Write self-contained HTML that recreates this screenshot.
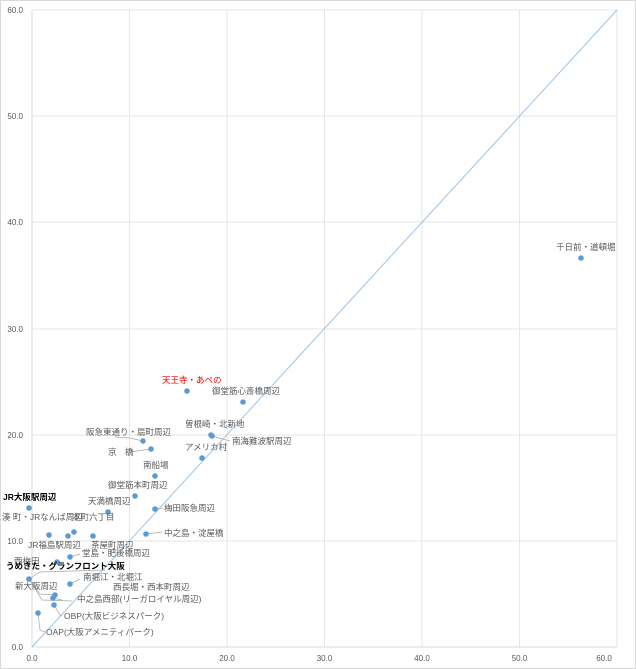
<!DOCTYPE html>
<html><head><meta charset="utf-8"><style>
body{margin:0;background:#fff}
svg{display:block;font-family:"Liberation Sans","Noto Sans CJK JP",sans-serif}
.t{font-size:8.5px;fill:#595959}
.a{font-size:8px;fill:#595959}
</style></head><body>
<svg width="636" height="669" viewBox="0 0 636 669">
<rect x="0.5" y="0.5" width="635" height="668" fill="#fff" stroke="#d9d9d9"/>
<g stroke="#e6e6e6" stroke-width="1">
<line x1="32" y1="10" x2="617" y2="10"/><line x1="32" y1="116" x2="617" y2="116"/>
<line x1="32" y1="222" x2="617" y2="222"/><line x1="32" y1="329" x2="617" y2="329"/>
<line x1="32" y1="435" x2="617" y2="435"/><line x1="32" y1="541" x2="617" y2="541"/>
<line x1="129.5" y1="10" x2="129.5" y2="647"/><line x1="227" y1="10" x2="227" y2="647"/>
<line x1="324.5" y1="10" x2="324.5" y2="647"/><line x1="422" y1="10" x2="422" y2="647"/>
<line x1="519.5" y1="10" x2="519.5" y2="647"/><line x1="617" y1="10" x2="617" y2="647"/>
</g>
<line x1="32" y1="647" x2="617" y2="647" stroke="#d9d9d9"/>
<line x1="32" y1="10" x2="32" y2="647" stroke="#d9d9d9"/>
<line x1="32" y1="647" x2="617" y2="10" stroke="#9dc3e6" stroke-width="1"/>
<g class="a" text-anchor="end">
<text x="23" y="650">0.0</text><text x="23" y="544">10.0</text><text x="23" y="438">20.0</text>
<text x="23" y="332">30.0</text><text x="23" y="225">40.0</text><text x="23" y="119">50.0</text><text x="23" y="13">60.0</text>
</g>
<g class="a" text-anchor="middle">
<text x="32" y="661">0.0</text><text x="129.5" y="661">10.0</text><text x="227" y="661">20.0</text>
<text x="324.5" y="661">30.0</text><text x="422" y="661">40.0</text><text x="519.5" y="661">50.0</text><text x="604" y="661">60.0</text>
</g>
<g stroke="#a6a6a6" stroke-width="0.7" fill="none">
<polyline points="143,441 130,438 115,437"/>
<polyline points="151,449 130,452"/>
<polyline points="212,436 230,441"/>
<polyline points="146,534 162,532"/>
<polyline points="29,579 40,594 55,595"/>
<polyline points="29,579 42,600 72,601"/>
<polyline points="53,598 62,600"/>
<polyline points="54,605 60,615 62,616"/>
<polyline points="38,613 40,630 45,632"/>
<polyline points="29,579 40,572 105,570"/>
<polyline points="70,584 80,579"/>
<polyline points="155,509 163,508"/>
<polyline points="70,557 80,554"/>
</g>
<g fill="#5b9bd5">
<circle cx="581" cy="258" r="2.8"/><circle cx="187" cy="391" r="2.8"/><circle cx="243" cy="402" r="2.8"/>
<circle cx="211" cy="435" r="2.8"/><circle cx="212" cy="436" r="2.8"/><circle cx="143" cy="441" r="2.8"/>
<circle cx="151" cy="449" r="2.8"/><circle cx="202" cy="458" r="2.8"/><circle cx="155" cy="476" r="2.8"/>
<circle cx="135" cy="496" r="2.8"/><circle cx="108" cy="512" r="2.8"/><circle cx="155" cy="509" r="2.8"/>
<circle cx="29" cy="508" r="2.8"/><circle cx="49" cy="535" r="2.8"/><circle cx="68" cy="536" r="2.8"/>
<circle cx="74" cy="532" r="2.8"/><circle cx="93" cy="536" r="2.8"/><circle cx="146" cy="534" r="2.8"/>
<circle cx="70" cy="557" r="2.8"/><circle cx="57" cy="562" r="2.8"/><circle cx="29" cy="579" r="2.8"/>
<circle cx="70" cy="584" r="2.8"/><circle cx="55" cy="595" r="2.8"/><circle cx="53" cy="598" r="2.8"/>
<circle cx="54" cy="605" r="2.8"/><circle cx="38" cy="613" r="2.8"/>
</g>
<g class="t">
<text x="556" y="250">千日前・道頓堀</text>
<text x="162" y="383" fill="#ff0000" style="fill:#ff0000">天王寺・あべの</text>
<text x="212" y="394">御堂筋心斎橋周辺</text>
<text x="185" y="427">曽根崎・北新地</text>
<text x="232" y="444">南海難波駅周辺</text>
<text x="86" y="435">阪急東通り・扇町周辺</text>
<text x="108" y="455">京　橋</text>
<text x="185" y="450">アメリカ村</text>
<text x="143" y="468">南船場</text>
<text x="108" y="488">御堂筋本町周辺</text>
<text x="88" y="504">天満橋周辺</text>
<text x="164" y="511">梅田阪急周辺</text>
<text x="3" y="500" style="font-weight:bold;fill:#000">JR大阪駅周辺</text>
<text x="2" y="520">湊 町・JRなんば周辺</text>
<text x="72" y="520">本町六丁目</text>
<text x="164" y="536">中之島・淀屋橋</text>
<text x="28" y="548">JR福島駅周辺</text>
<text x="91" y="548">茶屋町周辺</text>
<text x="82" y="556">堂島・肥後橋周辺</text>
<text x="14" y="564">西梅田</text>
<text x="6" y="569" style="font-weight:bold;fill:#000">うめきた・グランフロント大阪</text>
<text x="15" y="589">新大阪周辺</text>
<text x="83" y="580">南堀江・北堀江</text>
<text x="113" y="590">西長堀・西本町周辺</text>
<text x="77" y="602">中之島西部(リーガロイヤル周辺)</text>
<text x="64" y="619">OBP(大阪ビジネスパーク)</text>
<text x="46" y="635">OAP(大阪アメニティパーク)</text>
</g>
</svg>
</body></html>
